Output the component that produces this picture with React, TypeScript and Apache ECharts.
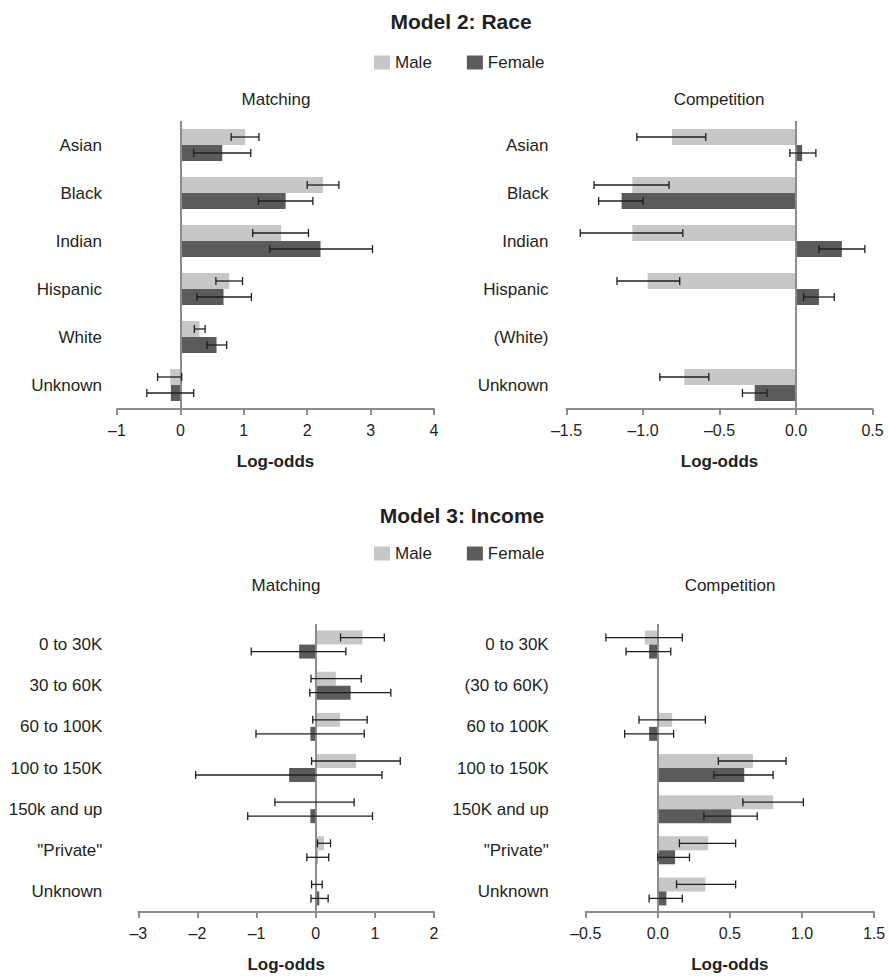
import React, { useEffect, useRef } from "react";
import * as echarts from "echarts";

// ---------- Data ----------
const raceMatchCategories = ["Asian", "Black", "Indian", "Hispanic", "White", "Unknown"];
const raceCompCategories = ["Asian", "Black", "Indian", "Hispanic", "(White)", "Unknown"];

const raceMatchMale = [1.02, 2.25, 1.59, 0.77, 0.3, -0.16];
const raceMatchMaleLow = [0.8, 2.0, 1.14, 0.56, 0.22, -0.36];
const raceMatchMaleHigh = [1.24, 2.5, 2.02, 0.98, 0.39, 0.02];
const raceMatchFemale = [0.66, 1.66, 2.21, 0.68, 0.57, -0.15];
const raceMatchFemaleLow = [0.21, 1.23, 1.41, 0.26, 0.42, -0.53];
const raceMatchFemaleHigh = [1.11, 2.09, 3.03, 1.12, 0.73, 0.21];

const raceCompMale = [-0.81, -1.07, -1.07, -0.97, null, -0.73];
const raceCompMaleLow = [-1.04, -1.32, -1.41, -1.17, null, -0.89];
const raceCompMaleHigh = [-0.59, -0.83, -0.74, -0.76, null, -0.57];
const raceCompFemale = [0.04, -1.14, 0.3, 0.15, null, -0.27];
const raceCompFemaleLow = [-0.04, -1.29, 0.15, 0.05, null, -0.35];
const raceCompFemaleHigh = [0.13, -1.0, 0.45, 0.25, null, -0.19];

const incomeMatchCategories = ["0 to 30K", "30 to 60K", "60 to 100K", "100 to 150K", "150k and up", '"Private"', "Unknown"];
const incomeCompCategories = ["0 to 30K", "(30 to 60K)", "60 to 100K", "100 to 150K", "150K and up", '"Private"', "Unknown"];

const incomeMatchMale = [0.79, 0.34, 0.41, 0.68, -0.01, 0.14, 0.01];
const incomeMatchMaleLow = [0.42, -0.08, -0.05, -0.07, -0.69, 0.03, -0.07];
const incomeMatchMaleHigh = [1.16, 0.77, 0.87, 1.43, 0.65, 0.25, 0.11];
const incomeMatchFemale = [-0.28, 0.59, -0.09, -0.45, -0.09, 0.03, 0.06];
const incomeMatchFemaleLow = [-1.09, -0.1, -1.01, -2.03, -1.15, -0.15, -0.08];
const incomeMatchFemaleHigh = [0.51, 1.27, 0.82, 1.12, 0.96, 0.22, 0.21];

const incomeCompMale = [-0.09, null, 0.1, 0.66, 0.8, 0.35, 0.33];
const incomeCompMaleLow = [-0.36, null, -0.13, 0.42, 0.59, 0.15, 0.13];
const incomeCompMaleHigh = [0.17, null, 0.33, 0.89, 1.01, 0.54, 0.54];
const incomeCompFemale = [-0.06, null, -0.06, 0.6, 0.51, 0.12, 0.06];
const incomeCompFemaleLow = [-0.22, null, -0.23, 0.39, 0.32, 0.0, -0.06];
const incomeCompFemaleHigh = [0.09, null, 0.11, 0.8, 0.69, 0.22, 0.17];

// ---------- Styling ----------
const FONT = "'Liberation Sans', Arial, Helvetica, sans-serif";
const MALE_COLOR = "#c6c7c9";
const FEMALE_COLOR = "#5b5b5d";
const AXIS_COLOR = "#8c8c8c";
const TEXT_COLOR = "#231f20";
const ERR_COLOR = "#1e1e1e";

type Panel = {
  grid: { left: number; top: number; width: number; height: number };
  categories: string[];
  male: (number | null)[];
  maleLow: (number | null)[];
  maleHigh: (number | null)[];
  female: (number | null)[];
  femaleLow: (number | null)[];
  femaleHigh: (number | null)[];
  min: number;
  max: number;
  interval: number;
  decimals: number;
  labelMargin: number;
  barWidth: number;
};

const panels: Panel[] = [
  {
    grid: { left: 117, top: 121, width: 317, height: 288 },
    categories: raceMatchCategories,
    male: raceMatchMale, maleLow: raceMatchMaleLow, maleHigh: raceMatchMaleHigh,
    female: raceMatchFemale, femaleLow: raceMatchFemaleLow, femaleHigh: raceMatchFemaleHigh,
    min: -1, max: 4, interval: 1, decimals: 0, labelMargin: 15, barWidth: 16,
  },
  {
    grid: { left: 566.5, top: 121, width: 306, height: 288 },
    categories: raceCompCategories,
    male: raceCompMale, maleLow: raceCompMaleLow, maleHigh: raceCompMaleHigh,
    female: raceCompFemale, femaleLow: raceCompFemaleLow, femaleHigh: raceCompFemaleHigh,
    min: -1.5, max: 0.5, interval: 0.5, decimals: 1, labelMargin: 18, barWidth: 16,
  },
  {
    grid: { left: 138.3, top: 624, width: 295.7, height: 288 },
    categories: incomeMatchCategories,
    male: incomeMatchMale, maleLow: incomeMatchMaleLow, maleHigh: incomeMatchMaleHigh,
    female: incomeMatchFemale, femaleLow: incomeMatchFemaleLow, femaleHigh: incomeMatchFemaleHigh,
    min: -3, max: 2, interval: 1, decimals: 0, labelMargin: 36, barWidth: 14,
  },
  {
    grid: { left: 585.7, top: 624, width: 288.3, height: 288 },
    categories: incomeCompCategories,
    male: incomeCompMale, maleLow: incomeCompMaleLow, maleHigh: incomeCompMaleHigh,
    female: incomeCompFemale, femaleLow: incomeCompFemaleLow, femaleHigh: incomeCompFemaleHigh,
    min: -0.5, max: 1.5, interval: 0.5, decimals: 1, labelMargin: 37, barWidth: 14,
  },
];

function errData(low: (number | null)[], high: (number | null)[]) {
  const out: number[][] = [];
  low.forEach((lo, i) => {
    const hi = high[i];
    if (lo != null && hi != null) out.push([lo, hi, i]);
  });
  return out;
}

function makeErrRender(offset: number) {
  return (params: any, api: any) => {
    const lo = api.value(0);
    const hi = api.value(1);
    const cat = api.value(2);
    const p1 = api.coord([lo, cat]);
    const p2 = api.coord([hi, cat]);
    const y = p1[1] + offset;
    const cap = 4;
    const style = { stroke: ERR_COLOR, lineWidth: 1.3 };
    return {
      type: "group",
      children: [
        { type: "line", shape: { x1: p1[0], y1: y, x2: p2[0], y2: y }, style },
        { type: "line", shape: { x1: p1[0], y1: y - cap, x2: p1[0], y2: y + cap }, style },
        { type: "line", shape: { x1: p2[0], y1: y - cap, x2: p2[0], y2: y + cap }, style },
      ],
    };
  };
}

function buildOption() {
  const grid: any[] = [];
  const xAxis: any[] = [];
  const yAxis: any[] = [];
  const series: any[] = [];

  panels.forEach((p, i) => {
    grid.push({ ...p.grid, containLabel: false });
    xAxis.push({
      type: "value",
      gridIndex: i,
      min: p.min,
      max: p.max,
      interval: p.interval,
      splitLine: { show: false },
      axisLine: { show: true, onZero: false, lineStyle: { color: AXIS_COLOR, width: 2 } },
      axisTick: { show: true, length: 6, lineStyle: { color: AXIS_COLOR, width: 2 } },
      axisLabel: {
        color: TEXT_COLOR,
        fontFamily: FONT,
        fontSize: 16,
        margin: 13,
        formatter: (v: number) => v.toFixed(p.decimals).replace("-", "\u2013"),
      },
      name: "Log-odds",
      nameLocation: "middle",
      nameGap: 44,
      nameTextStyle: { color: TEXT_COLOR, fontFamily: FONT, fontSize: 17, fontWeight: "bold" },
    });
    yAxis.push({
      type: "category",
      gridIndex: i,
      data: p.categories,
      inverse: true,
      axisLine: { show: false },
      axisTick: { show: false },
      splitLine: { show: false },
      axisLabel: { color: TEXT_COLOR, fontFamily: FONT, fontSize: 17, margin: p.labelMargin },
    });
    series.push({
      name: "Male",
      type: "bar",
      xAxisIndex: i,
      yAxisIndex: i,
      data: p.male,
      barWidth: p.barWidth,
      barGap: "0%",
      itemStyle: { color: MALE_COLOR },
      markLine: {
        silent: true,
        symbol: "none",
        label: { show: false },
        lineStyle: { color: AXIS_COLOR, width: 2, type: "solid" },
        data: [{ xAxis: 0 }],
        z: 5,
      },
    });
    series.push({
      name: "Female",
      type: "bar",
      xAxisIndex: i,
      yAxisIndex: i,
      data: p.female,
      barWidth: p.barWidth,
      barGap: "0%",
      itemStyle: { color: FEMALE_COLOR },
    });
    series.push({
      type: "custom",
      xAxisIndex: i,
      yAxisIndex: i,
      data: errData(p.maleLow, p.maleHigh),
      encode: { x: [0, 1], y: 2 },
      renderItem: makeErrRender(-p.barWidth / 2),
      z: 10,
      silent: true,
    });
    series.push({
      type: "custom",
      xAxisIndex: i,
      yAxisIndex: i,
      data: errData(p.femaleLow, p.femaleHigh),
      encode: { x: [0, 1], y: 2 },
      renderItem: makeErrRender(p.barWidth / 2),
      z: 10,
      silent: true,
    });
  });

  const legendBase = {
    data: ["Male", "Female"],
    left: 374,
    itemWidth: 16,
    itemHeight: 14,
    itemGap: 35,
    padding: 0,
    icon: "rect",
    selectedMode: false,
    textStyle: { color: TEXT_COLOR, fontFamily: FONT, fontSize: 17 },
  };

  const txt = (text: string, x: number, y: number, size: number, bold = false) => ({
    type: "text",
    x,
    y,
    style: {
      text,
      fill: TEXT_COLOR,
      font: `${bold ? "bold " : ""}${size}px ${FONT}`,
      align: "center",
      verticalAlign: "middle",
    },
  });

  return {
    animation: false,
    backgroundColor: "#ffffff",
    legend: [
      { ...legendBase, top: 54 },
      { ...legendBase, top: 545 },
    ],
    grid,
    xAxis,
    yAxis,
    series,
    graphic: [
      txt("Model 2: Race", 461, 21, 21, true),
      txt("Matching", 276, 99, 17),
      txt("Competition", 719, 99, 17),
      txt("Model 3: Income", 462, 515, 21, true),
      txt("Matching", 286, 585, 17),
      txt("Competition", 730, 585, 17),
    ],
  };
}

export default function App() {
  const ref = useRef<HTMLDivElement>(null);
  useEffect(() => {
    document.body.style.margin = "0";
    if (!ref.current) return;
    const chart = echarts.init(ref.current, undefined, { renderer: "svg" });
    chart.setOption(buildOption() as any);
    return () => {
      chart.dispose();
    };
  }, []);
  return <div ref={ref} style={{ width: 889, height: 977 }} />;
}
